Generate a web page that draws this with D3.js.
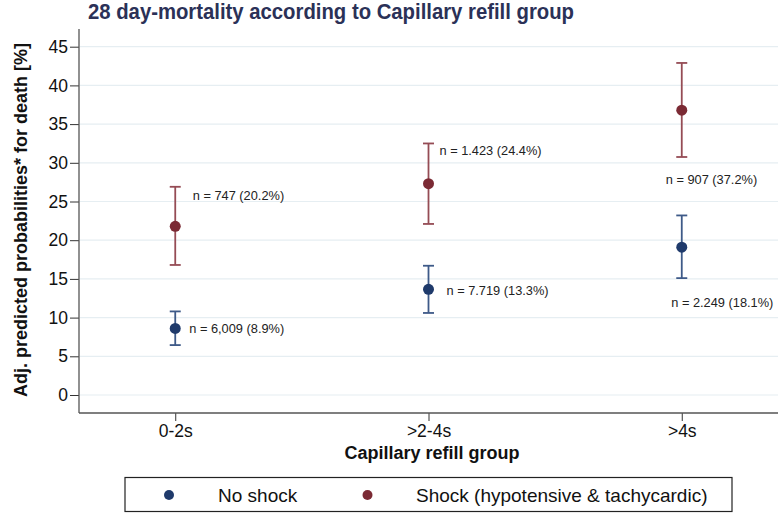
<!DOCTYPE html>
<html><head><meta charset="utf-8">
<script src="https://cdn.jsdelivr.net/npm/d3@7"></script>
<style>body{margin:0;background:#fff}svg{display:block}text{font-family:"Liberation Sans",Arial,sans-serif}</style>
</head><body><svg id="c" width="778" height="513"></svg>
<script>
const categories = ["0-2s", ">2-4s", ">4s"];
const series = ["No shock", "Shock (hypotensive & tachycardic)"];
const noShockEst = [8.6, 13.65, 19.1];
const noShockLo = [6.45, 10.6, 15.1];
const noShockHi = [10.8, 16.7, 23.2];
const shockEst = [21.8, 27.3, 36.8];
const shockLo = [16.8, 22.1, 30.75];
const shockHi = [26.9, 32.5, 42.9];
const noShockLabels = ["n = 6,009 (8.9%)", "n = 7.719 (13.3%)", "n = 2.249 (18.1%)"];
const shockLabels = ["n = 747 (20.2%)", "n = 1.423 (24.4%)", "n = 907 (37.2%)"];
const yTicks = [0, 5, 10, 15, 20, 25, 30, 35, 40, 45];

const colors = {dot: ["#1f3a6b", "#7b2a34"], bar: ["#3e5a88", "#954c55"]};
// label offsets (layout) relative to each point, px
const labelOff = [
  [[14, 0], [18, 1.5], [-10.5, 55]],
  [[17.5, -31], [11, -33], [-16, 69]]
];

const svg = d3.select("#c");
const L = 79, R = 778, T = 29, B = 413;
const x = d3.scalePoint().domain(categories).range([L, R]).padding(0.38);
const y = d3.scaleLinear().domain([0, 45]).range([395, 46.7]);

// gridlines
svg.append("g").selectAll("line").data(yTicks).join("line")
  .attr("x1", L + 1).attr("x2", R).attr("y1", d => y(d)).attr("y2", d => y(d))
  .attr("stroke", "#e6eef2").attr("stroke-width", 1.2);

// axes
const yAxis = svg.append("g").attr("transform", `translate(${L},0)`)
  .call(d3.axisLeft(y).tickValues(yTicks).tickSize(9).tickPadding(2));
yAxis.select(".domain").remove();
yAxis.selectAll("text").attr("font-size", 17.5).attr("fill", "#111");
yAxis.selectAll("line").attr("stroke", "#333");
svg.append("line").attr("x1", L).attr("x2", L).attr("y1", T).attr("y2", B).attr("stroke", "#555").attr("stroke-width", 1.3);

const xAxis = svg.append("g").attr("transform", `translate(0,${B})`)
  .call(d3.axisBottom(x).tickSize(8).tickPadding(3.5));
xAxis.select(".domain").remove();
xAxis.selectAll("text").attr("font-size", 17.5).attr("fill", "#111");
xAxis.selectAll("line").attr("stroke", "#333");
svg.append("line").attr("x1", L).attr("x2", R).attr("y1", B).attr("y2", B).attr("stroke", "#555").attr("stroke-width", 1.3);

// data
const groups = [
  {est: noShockEst, lo: noShockLo, hi: noShockHi, lab: noShockLabels},
  {est: shockEst, lo: shockLo, hi: shockHi, lab: shockLabels}
];
groups.forEach((g, si) => {
  const gg = svg.append("g");
  const rows = categories.map((c, i) => ({c, i, e: g.est[i], lo: g.lo[i], hi: g.hi[i], lab: g.lab[i]}));
  gg.selectAll(".v").data(rows).join("line")
    .attr("x1", d => x(d.c)).attr("x2", d => x(d.c)).attr("y1", d => y(d.lo)).attr("y2", d => y(d.hi))
    .attr("stroke", colors.bar[si]).attr("stroke-width", 1.8);
  ["lo", "hi"].forEach(k => {
    gg.selectAll(".c" + k).data(rows).join("line")
      .attr("x1", d => x(d.c) - 5.5).attr("x2", d => x(d.c) + 5.5).attr("y1", d => y(d[k])).attr("y2", d => y(d[k]))
      .attr("stroke", colors.bar[si]).attr("stroke-width", 1.8);
  });
  gg.selectAll("circle").data(rows).join("circle")
    .attr("cx", d => x(d.c)).attr("cy", d => y(d.e)).attr("r", 5.5).attr("fill", colors.dot[si]);
  gg.selectAll("text").data(rows).join("text")
    .attr("x", d => x(d.c) + labelOff[si][d.i][0]).attr("y", d => y(d.e) + labelOff[si][d.i][1])
    .attr("dy", "0.35em").attr("font-size", 12.8).attr("fill", "#222").text(d => d.lab);
});

// title
svg.append("text").attr("x", 88).attr("y", 19).attr("font-size", 22.5).attr("font-weight", "bold")
  .attr("fill", "#2b3157").attr("textLength", 486).attr("lengthAdjust", "spacingAndGlyphs")
  .text("28 day-mortality according to Capillary refill group");

// axis titles
svg.append("text").attr("transform", "translate(27,220) rotate(-90)").attr("text-anchor", "middle")
  .attr("font-size", 18).attr("font-weight", "bold").attr("fill", "#111")
  .text("Adj. predicted probabilities* for death [%]");
svg.append("text").attr("x", 432).attr("y", 459).attr("text-anchor", "middle")
  .attr("font-size", 18).attr("font-weight", "bold").attr("fill", "#111").text("Capillary refill group");

// legend
const lg = svg.append("g");
lg.append("rect").attr("x", 125).attr("y", 477.5).attr("width", 607).attr("height", 34)
  .attr("fill", "#fff").attr("stroke", "#222").attr("stroke-width", 1.2);
const legX = [[169, 218], [367.5, 416]];
lg.selectAll("circle").data(series).join("circle")
  .attr("cx", (d, i) => legX[i][0]).attr("cy", 495).attr("r", 5).attr("fill", (d, i) => colors.dot[i]);
lg.selectAll("text").data(series).join("text")
  .attr("x", (d, i) => legX[i][1]).attr("y", 495).attr("dy", "0.35em").attr("font-size", 19).attr("fill", "#111")
  .text(d => d);
</script></body></html>
